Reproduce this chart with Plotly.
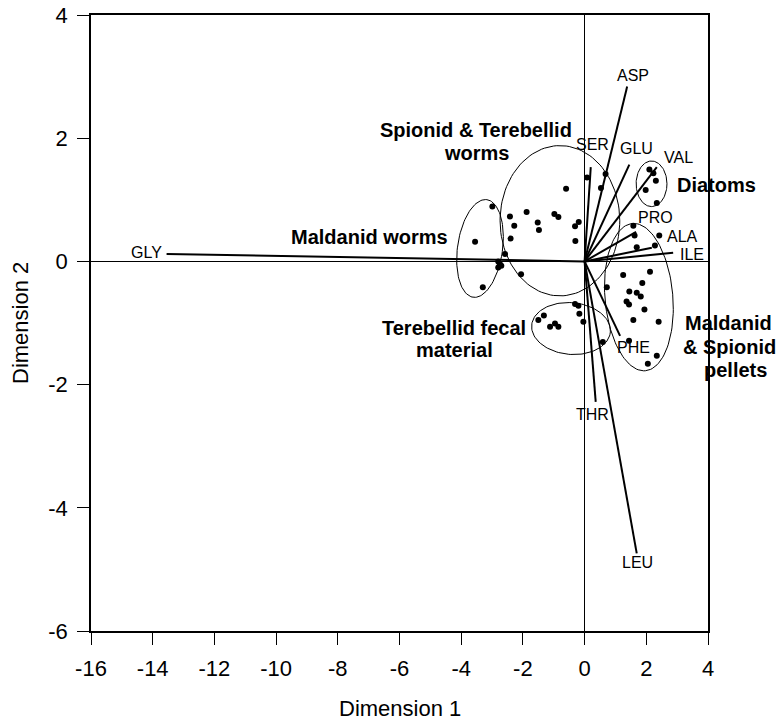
import numpy as np
import plotly.graph_objects as go

# Sample scores on the first two dimensions
sample_x = [0.08, 0.68, 0.53, -0.60, -2.99, -2.42, -1.88, -2.28, -1.52, -1.48, -0.98, -0.85,
            -0.19, -0.31, -0.30, -2.40, -2.58, -2.06,
            -3.55, -2.80, -2.75, -2.80, -2.70, -3.30,
            2.10, 2.23, 2.31, 1.98, 2.34,
            1.58, 1.62, 2.42, 1.69, 2.28, 1.25, 2.12, 0.72, 1.87, 1.45, 1.69, 1.82, 1.36, 1.44,
            1.94, 1.58, 2.40, 1.44, 2.34, 2.05,
            -1.50, -1.32, -1.12, -0.96, -0.85, -0.31, -0.20, -0.17, -0.04, 0.59]
sample_y = [1.36, 1.42, 1.19, 1.18, 0.89, 0.73, 0.80, 0.58, 0.63, 0.51, 0.77, 0.72,
            0.64, 0.57, 0.33, 0.37, 0.12, -0.21,
            0.32, 0.00, -0.04, -0.10, -0.07, -0.42,
            1.49, 1.43, 1.31, 1.16, 0.95,
            0.58, 0.42, 0.42, 0.23, 0.26, -0.22, -0.17, -0.42, -0.35, -0.49, -0.51, -0.57, -0.65, -0.70,
            -0.78, -0.95, -0.98, -1.29, -1.53, -1.66,
            -0.95, -0.88, -1.06, -1.01, -1.06, -0.69, -0.72, -0.85, -0.98, -1.31]

# Amino acid loadings (vector tips)
amino_acids = ["ASP", "SER", "GLU", "VAL", "PRO", "ALA", "ILE", "PHE", "THR", "LEU", "GLY"]
loading_x = [1.38, 0.20, 1.45, 2.34, 1.67, 2.18, 2.87, 1.15, 0.36, 1.69, -13.55]
loading_y = [2.84, 1.53, 1.57, 1.53, 0.48, 0.22, 0.14, -1.21, -2.28, -4.74, 0.12]

# Where each amino acid name sits
label_pos = {
    "ASP": (1.57, 3.01), "SER": (0.27, 1.89), "GLU": (1.67, 1.84), "VAL": (3.03, 1.68),
    "PRO": (2.31, 0.71), "ALA": (3.16, 0.41), "ILE": (3.48, 0.12), "PHE": (1.60, -1.40),
    "THR": (0.24, -2.48), "LEU": (1.70, -4.89), "GLY": (-14.19, 0.15),
}

# Group ellipses: cx, cy, rx, ry, tilt in degrees
ellipses = [
    (-0.80, 0.66, 1.94, 1.22, 0),     # Spionid & Terebellid worms
    (-3.39, 0.21, 0.73, 0.80, -8),    # Maldanid worms
    (2.17, 1.26, 0.50, 0.37, 0),      # Diatoms
    (-0.44, -1.09, 1.28, 0.42, -5),   # Terebellid fecal material
    (1.76, -0.58, 1.10, 1.20, 5),     # Maldanid & Spionid pellets
]

# Group names, one entry per text line, with their centres
group_lines = [
    ("Spionid & Terebellid", -3.52, 2.13),
    ("worms", -3.49, 1.76),
    ("Maldanid worms", -6.96, 0.40),
    ("Terebellid fecal", -4.23, -1.08),
    ("material", -4.23, -1.44),
    ("Diatoms", 4.26, 1.24),
    ("Maldanid", 4.68, -1.00),
    ("& Spionid", 4.71, -1.39),
    ("pellets", 4.88, -1.76),
]

W, H = 779, 722
ML, MR, MT, MB = 91, 71, 15, 91
XR, YR = (-16, 4), (-6, 4)
PW, PH = W - ML - MR, H - MT - MB
sx = PW / (XR[1] - XR[0])
sy = PH / (YR[1] - YR[0])

FONT = "Liberation Sans, Arial, sans-serif"

fig = go.Figure()

# loading vectors from the origin
for name, lx, ly in zip(amino_acids, loading_x, loading_y):
    fig.add_trace(go.Scatter(x=[0, lx], y=[0, ly], mode="lines",
                             line=dict(color="black", width=2), hoverinfo="skip",
                             showlegend=False))
    px, py = label_pos[name]
    fig.add_annotation(x=px, y=py, text=name, showarrow=False,
                       xanchor="center", yanchor="middle",
                       font=dict(family=FONT, size=16, color="black"))

# samples
fig.add_trace(go.Scatter(x=sample_x, y=sample_y, mode="markers",
                         marker=dict(color="black", size=6), showlegend=False))

# group ellipses
t = np.linspace(0, 2 * np.pi, 121)
for cx, cy, rx, ry, ang in ellipses:
    a = np.deg2rad(ang)
    ux = rx * sx * np.cos(t)
    uy = ry * sy * np.sin(t)
    dx = (ux * np.cos(a) - uy * np.sin(a)) / sx
    dy = (ux * np.sin(a) + uy * np.cos(a)) / sy
    fig.add_trace(go.Scatter(x=cx + dx, y=cy + dy, mode="lines",
                             line=dict(color="black", width=1), hoverinfo="skip",
                             showlegend=False))


def to_paper(x, y):
    return (x - XR[0]) / (XR[1] - XR[0]), (y - YR[0]) / (YR[1] - YR[0])


# group names (paper coordinates so text beyond the frame still shows)
for text, gx, gy in group_lines:
    px, py = to_paper(gx, gy)
    fig.add_annotation(x=px, y=py, xref="paper", yref="paper", text="<b>" + text + "</b>",
                       xanchor="center", yanchor="middle", showarrow=False,
                       font=dict(family=FONT, size=20, color="black"))

# axis titles
fig.add_annotation(x=0.5, y=-(708 - MT - PH) / PH, xref="paper", yref="paper",
                   text="Dimension 1", showarrow=False, xanchor="center", yanchor="middle",
                   font=dict(family=FONT, size=22, color="black"))
fig.add_annotation(x=-(ML - 20) / PW, y=0.5, xref="paper", yref="paper",
                   text="Dimension 2", showarrow=False, textangle=-90,
                   xanchor="center", yanchor="middle",
                   font=dict(family=FONT, size=22, color="black"))

axis_common = dict(showline=True, linecolor="black", linewidth=1.5, mirror=True,
                   ticks="outside", ticklen=12, tickcolor="black", tickwidth=1,
                   showgrid=False, zeroline=True, zerolinecolor="black", zerolinewidth=1,
                   ticklabelstandoff=5, automargin=False,
                   tickfont=dict(family=FONT, size=22, color="black"))

xticks = list(range(-16, 5, 2))
yticks = list(range(-6, 5, 2))

fig.update_layout(
    width=W, height=H,
    margin=dict(l=ML, r=MR, t=MT, b=MB),
    plot_bgcolor="white", paper_bgcolor="white",
    xaxis=dict(range=list(XR), tickvals=xticks, ticktext=[str(v) for v in xticks],
               **axis_common),
    yaxis=dict(range=list(YR), tickvals=yticks, ticktext=[str(v) for v in yticks],
               **axis_common),
)

fig.write_html("out.html")
